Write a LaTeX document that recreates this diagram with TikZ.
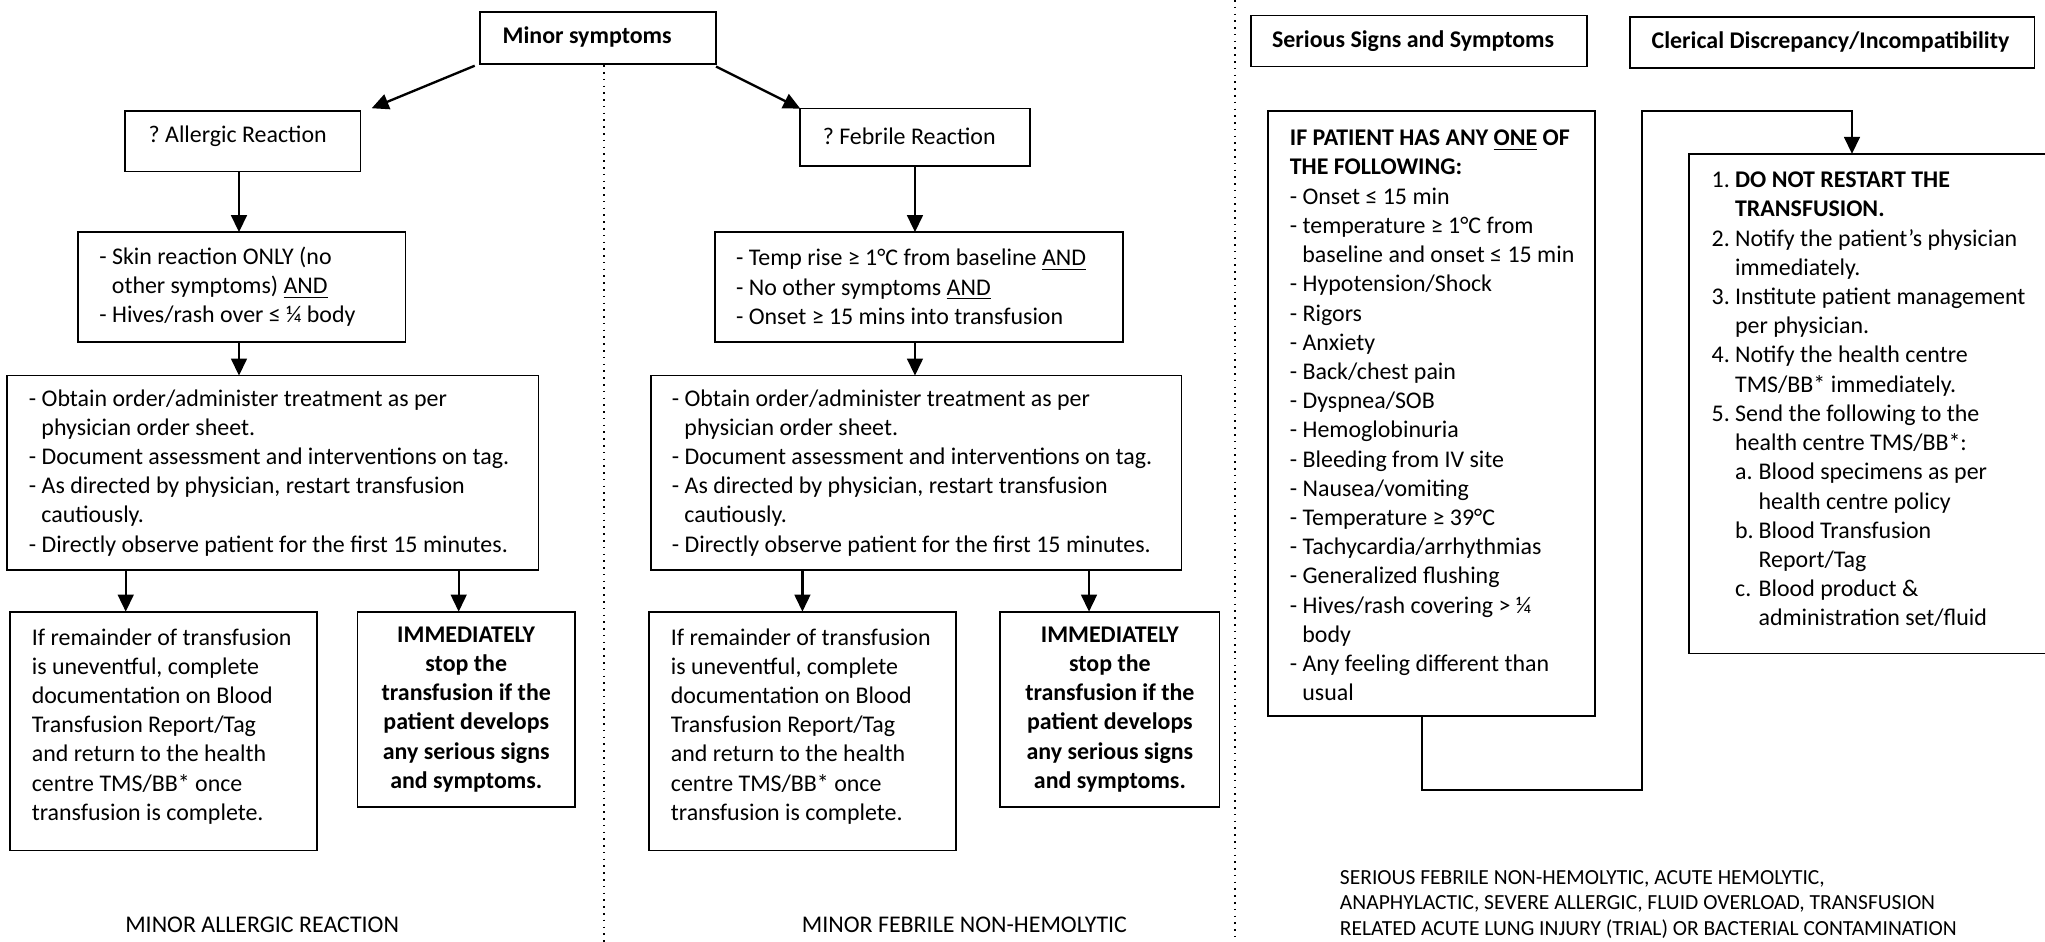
\documentclass[tikz,border=0pt]{standalone}
\usepackage{fontspec}
\setmainfont{Carlito}
\usetikzlibrary{arrows.meta}
\newcommand\fs{\fontsize{9.17pt}{11.2pt}\selectfont\frenchspacing}
\newcommand\fsb{\fontsize{8.25pt}{9.75pt}\selectfont\frenchspacing}
\newcommand\hang{\hspace*{4.8pt}}
\begin{document}
\begin{tikzpicture}[x=0.5pt,y=-0.5pt,
  frame/.style={draw, line width=0.65pt, inner sep=0pt, outer sep=0pt, anchor=north west},
  txt/.style={font=\fs, inner sep=0pt, align=left, anchor=west},
  ctxt/.style={font=\fs, inner sep=0pt, align=center},
  arr/.style={line width=0.9pt, -{Triangle[length=6.5pt,width=6pt]}},
  dotline/.style={line width=0.6pt, dotted},
  lbl/.style={font=\fs, inner sep=0pt}]
\useasboundingbox (0,0) rectangle (1568,722);
\fill[white] (0,0) rectangle (1568,722);

% dividers
\draw[dotline] (463,50) -- (463,722);
\draw[dotline] (947,0) -- (947,722);

% ---------- frames (left and middle) ----------
\node[frame, minimum width=90.5pt, minimum height=20pt] (minor) at (368,9) {};
\node[frame, minimum width=90.25pt, minimum height=23.25pt] (allergic) at (96,85) {};
\node[frame, minimum width=87.95pt, minimum height=22pt] (febrile) at (613.6,83.3) {};
\node[frame, minimum width=125.5pt, minimum height=42pt] (skin) at (60,178) {};
\node[frame, minimum width=156.5pt, minimum height=42pt] (temp) at (548,178) {};
\node[frame, minimum width=203.8pt, minimum height=74.5pt] (obtainL) at (5.4,288) {};
\node[frame, minimum width=203.5pt, minimum height=74.5pt] (obtainR) at (499,288) {};
\node[frame, minimum width=117.7pt, minimum height=91.5pt] (ifremL) at (7.6,469) {};
\node[frame, minimum width=83.5pt, minimum height=75pt] (immL) at (274,469) {};
\node[frame, minimum width=117.75pt, minimum height=91.5pt] (ifremR) at (497.5,469) {};
\node[frame, minimum width=84pt, minimum height=75pt] (immR) at (767,469) {};

% ---------- texts (left and middle) ----------
\node[txt] (minor-t) at ([xshift=8.5pt,yshift=0.4pt]minor.west) {\textbf{Minor symptoms}};
\node[txt] (allergic-t) at ([xshift=8.8pt,yshift=1.7pt]allergic.west) {? Allergic Reaction};
\node[txt] (febrile-t) at ([xshift=8.45pt,yshift=0.3pt]febrile.west) {? Febrile Reaction};
\node[txt] (skin-t) at ([xshift=7.9pt]skin.west)
 {- Skin reaction ONLY (no\\ \hang other symptoms) \underline{AND}\\- Hives/rash over ≤ ¼ body};
\node[txt] (temp-t) at ([xshift=8pt]temp.west)
 {- Temp rise ≥ 1°C from baseline \underline{AND}\\- No other symptoms \underline{AND}\\- Onset ≥ 15 mins into transfusion};
\node[txt] (obtainL-t) at ([xshift=8.2pt]obtainL.west)
 {- Obtain order/administer treatment as per\\ \hang physician order sheet.\\- Document assessment and interventions on tag.\\- As directed by physician, restart transfusion\\ \hang cautiously.\\- Directly observe patient for the first 15 minutes.};
\node[txt] (obtainR-t) at ([xshift=7.9pt]obtainR.west)
 {- Obtain order/administer treatment as per\\ \hang physician order sheet.\\- Document assessment and interventions on tag.\\- As directed by physician, restart transfusion\\ \hang cautiously.\\- Directly observe patient for the first 15 minutes.};
\node[txt] (ifremL-t) at ([xshift=8.2pt,yshift=1.8pt]ifremL.west)
 {If remainder of transfusion\\is uneventful, complete\\documentation on Blood\\Transfusion Report/Tag\\and return to the health\\centre TMS/BB* once\\transfusion is complete.};
\node[ctxt] (immL-t) at (immL.center)
 {\textbf{IMMEDIATELY}\\\textbf{stop the}\\\textbf{transfusion if the}\\\textbf{patient develops}\\\textbf{any serious signs}\\\textbf{and symptoms.}};
\node[txt] (ifremR-t) at ([xshift=8.25pt,yshift=1.8pt]ifremR.west)
 {If remainder of transfusion\\is uneventful, complete\\documentation on Blood\\Transfusion Report/Tag\\and return to the health\\centre TMS/BB* once\\transfusion is complete.};
\node[ctxt] (immR-t) at (immR.center)
 {\textbf{IMMEDIATELY}\\\textbf{stop the}\\\textbf{transfusion if the}\\\textbf{patient develops}\\\textbf{any serious signs}\\\textbf{and symptoms.}};

\node[lbl] (labA) at (201,709) {MINOR ALLERGIC REACTION};
\node[lbl] (labF) at (739.5,709) {MINOR FEBRILE NON-HEMOLYTIC};

% ---------- connectors (left and middle) ----------
\draw[arr] ([xshift=-2pt,yshift=-0.7pt]minor.south west) -- ([xshift=4.25pt,yshift=1pt]allergic.north east);
\draw[arr] ([yshift=-1pt]minor.south east) -- (febrile.north west);
\draw[arr] ([xshift=-1.5pt]allergic.south) -- ([xshift=-1.5pt]allergic.south |- skin.north);
\draw[arr] (febrile.south) -- (febrile.south |- temp.north);
\draw[arr] ([xshift=-1.5pt]allergic.south |- skin.south) -- ([xshift=-1.5pt]allergic.south |- obtainL.north);
\draw[arr] (febrile.south |- temp.south) -- (febrile.south |- obtainR.north);
\draw[arr] ([xshift=-14.45pt]ifremL.north |- obtainL.south) -- ([xshift=-14.45pt]ifremL.north);
\draw[arr] ([xshift=-2.9pt]immL.north |- obtainL.south) -- ([xshift=-2.9pt]immL.north);
\draw[arr] (ifremR.north |- obtainR.south) -- (ifremR.north);
\draw[arr] ([xshift=-8pt]immR.north |- obtainR.south) -- ([xshift=-8pt]immR.north);

% ---------- right part ----------
\node[frame, minimum width=129pt, minimum height=19.5pt] (serious) at (959,12) {};
\node[frame, minimum width=155pt, minimum height=19.5pt] (clerical) at (1250,13) {};
\node[frame, minimum width=125.5pt, minimum height=232pt] (ifpat) at (972,85) {};
\node[frame, minimum width=142.5pt, minimum height=191.5pt] (steps) at (1295,118) {};

\node[txt] (serious-t) at ([xshift=8pt]serious.west) {\textbf{Serious Signs and Symptoms}};
\node[txt] (clerical-t) at ([xshift=8pt]clerical.west) {\textbf{Clerical Discrepancy/Incompatibility}};
\node[txt] (ifpat-t) at ([xshift=8.3pt,yshift=-0.8pt]ifpat.west)
 {\textbf{IF PATIENT HAS ANY \underline{ONE} OF}\\
  \textbf{THE FOLLOWING:}\\
  - Onset ≤ 15 min\\
  - temperature ≥ 1°C from\\
  \hang baseline and onset ≤ 15 min\\
  - Hypotension/Shock\\
  - Rigors\\
  - Anxiety\\
  - Back/chest pain\\
  - Dyspnea/SOB\\
  - Hemoglobinuria\\
  - Bleeding from IV site\\
  - Nausea/vomiting\\
  - Temperature ≥ 39°C\\
  - Tachycardia/arrhythmias\\
  - Generalized flushing\\
  - Hives/rash covering > ¼\\
  \hang body\\
  - Any feeling different than\\
  \hang usual};
\node[txt] (steps-t) at ([xshift=8.5pt,yshift=1.6pt]steps.west)
 {\makebox[9pt][l]{1.}\textbf{DO NOT RESTART THE}\\
  \hspace*{9pt}\textbf{TRANSFUSION.}\\
  \makebox[9pt][l]{2.}Notify the patient’s physician\\
  \hspace*{9pt}immediately.\\
  \makebox[9pt][l]{3.}Institute patient management\\
  \hspace*{9pt}per physician.\\
  \makebox[9pt][l]{4.}Notify the health centre\\
  \hspace*{9pt}TMS/BB* immediately.\\
  \makebox[9pt][l]{5.}Send the following to the\\
  \hspace*{9pt}health centre TMS/BB*:\\
  \hspace*{9pt}\makebox[9pt][l]{a.}Blood specimens as per\\
  \hspace*{18pt}health centre policy\\
  \hspace*{9pt}\makebox[9pt][l]{b.}Blood Transfusion\\
  \hspace*{18pt}Report/Tag\\
  \hspace*{9pt}\makebox[9pt][l]{c.}Blood product \&\\
  \hspace*{18pt}administration set/fluid};

\coordinate (elbowR) at (1258.8,85);
\draw[arr] ([xshift=-3.5pt]ifpat.south) -- ++(0,56.5) -| (elbowR) -| ([xshift=-8.75pt]steps.north);

\node[font=\fsb, inner sep=0pt, align=left, anchor=north west] (labS) at (1027,667)
 {SERIOUS FEBRILE NON-HEMOLYTIC, ACUTE HEMOLYTIC,\\
  ANAPHYLACTIC, SEVERE ALLERGIC, FLUID OVERLOAD, TRANSFUSION\\
  RELATED ACUTE LUNG INJURY (TRIAL) OR BACTERIAL CONTAMINATION};
\end{tikzpicture}
\end{document}
